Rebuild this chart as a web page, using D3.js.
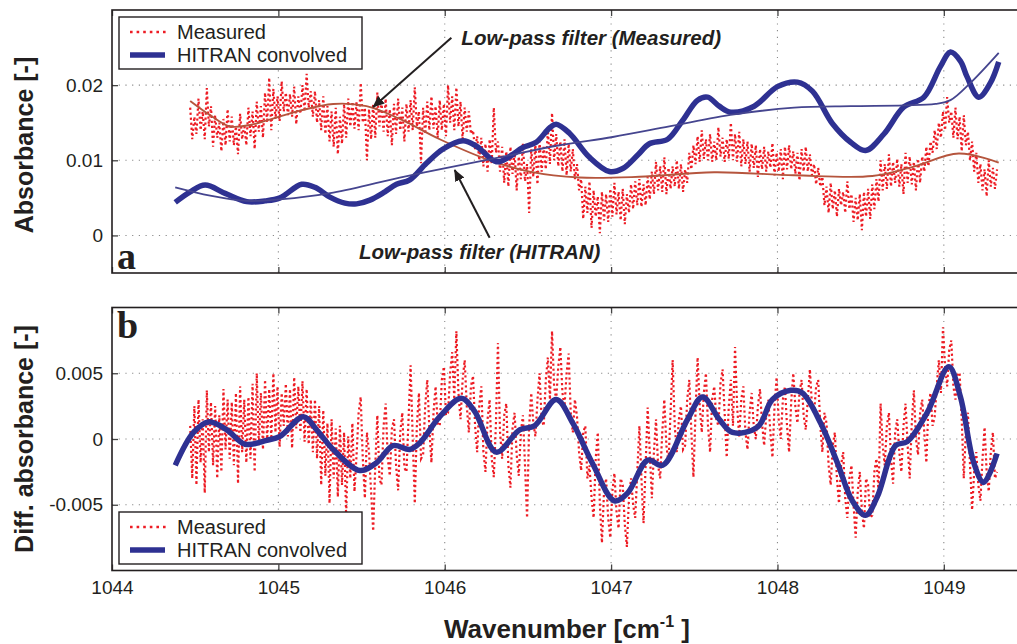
<!DOCTYPE html>
<html lang="en">
<head>
<meta charset="UTF-8">
<title>Measured vs HITRAN absorbance</title>
<script src="https://d3js.org/d3.v7.min.js"></script>
<style>
  body { margin: 0; background: #fff; }
  svg { display: block; font-family: "Liberation Sans", Arial, Helvetica, sans-serif; }
</style>
</head>
<body>
<svg id="chart" width="1017" height="644"></svg>
<script>
// ---------------- data ----------------
// measured spectra: uniform wavenumber grid
var measStart = 1044.47, measStep = 0.0125;

// panel a, measured absorbance [-]
var measuredAbs = [
  0.0170, 0.0128, 0.0158, 0.0135, 0.0182, 0.0140, 0.0165, 0.0128, 0.0196, 0.0145, 0.0172, 0.0118, 0.0160, 0.0130, 0.0150, 0.0112, 0.0155, 0.0120, 0.0168, 0.0125,
  0.0158, 0.0120, 0.0145, 0.0108, 0.0162, 0.0128, 0.0148, 0.0120, 0.0170, 0.0132, 0.0165, 0.0115, 0.0178, 0.0138, 0.0172, 0.0130, 0.0190, 0.0150, 0.0210, 0.0140,
  0.0195, 0.0155, 0.0185, 0.0152, 0.0205, 0.0165, 0.0190, 0.0160, 0.0188, 0.0158, 0.0198, 0.0148, 0.0185, 0.0162, 0.0200, 0.0165, 0.0215, 0.0170, 0.0192, 0.0158,
  0.0192, 0.0150, 0.0180, 0.0140, 0.0185, 0.0135, 0.0172, 0.0125, 0.0165, 0.0118, 0.0170, 0.0108, 0.0158, 0.0122, 0.0175, 0.0130, 0.0182, 0.0145, 0.0178, 0.0142,
  0.0178, 0.0140, 0.0203, 0.0150, 0.0170, 0.0100, 0.0168, 0.0128, 0.0175, 0.0130, 0.0190, 0.0145, 0.0178, 0.0138, 0.0182, 0.0132, 0.0168, 0.0120, 0.0175, 0.0135,
  0.0182, 0.0140, 0.0170, 0.0125, 0.0175, 0.0138, 0.0180, 0.0140, 0.0197, 0.0145, 0.0165, 0.0096, 0.0170, 0.0135, 0.0178, 0.0140, 0.0185, 0.0142, 0.0172, 0.0130,
  0.0180, 0.0140, 0.0175, 0.0132, 0.0200, 0.0150, 0.0185, 0.0140, 0.0197, 0.0145, 0.0178, 0.0128, 0.0170, 0.0138, 0.0165, 0.0135, 0.0140, 0.0115, 0.0132, 0.0100,
  0.0130, 0.0092, 0.0122, 0.0085, 0.0128, 0.0095, 0.0170, 0.0110, 0.0125, 0.0085, 0.0118, 0.0070, 0.0112, 0.0065, 0.0118, 0.0082, 0.0110, 0.0060, 0.0105, 0.0075,
  0.0122, 0.0072, 0.0095, 0.0030, 0.0115, 0.0078, 0.0120, 0.0068, 0.0125, 0.0085, 0.0118, 0.0088, 0.0140, 0.0095, 0.0163, 0.0100, 0.0135, 0.0092, 0.0125, 0.0085,
  0.0128, 0.0080, 0.0122, 0.0085, 0.0115, 0.0075, 0.0095, 0.0060, 0.0075, 0.0022, 0.0065, 0.0030, 0.0072, 0.0010, 0.0060, 0.0025, 0.0052, 0.0003, 0.0058, 0.0020,
  0.0055, 0.0018, 0.0062, 0.0025, 0.0070, 0.0028, 0.0058, 0.0020, 0.0062, 0.0015, 0.0055, 0.0030, 0.0068, 0.0035, 0.0072, 0.0040, 0.0075, 0.0038, 0.0068, 0.0040,
  0.0078, 0.0048, 0.0085, 0.0055, 0.0098, 0.0060, 0.0092, 0.0058, 0.0104, 0.0055, 0.0090, 0.0062, 0.0092, 0.0065, 0.0100, 0.0062, 0.0095, 0.0058, 0.0088, 0.0070,
  0.0110, 0.0088, 0.0120, 0.0095, 0.0132, 0.0098, 0.0140, 0.0102, 0.0128, 0.0100, 0.0135, 0.0098, 0.0125, 0.0100, 0.0144, 0.0105, 0.0130, 0.0098, 0.0128, 0.0102,
  0.0150, 0.0100, 0.0135, 0.0098, 0.0138, 0.0092, 0.0128, 0.0095, 0.0125, 0.0085, 0.0122, 0.0090, 0.0120, 0.0078, 0.0115, 0.0088, 0.0118, 0.0085, 0.0112, 0.0090,
  0.0123, 0.0080, 0.0110, 0.0085, 0.0115, 0.0075, 0.0118, 0.0088, 0.0120, 0.0088, 0.0112, 0.0082, 0.0110, 0.0073, 0.0115, 0.0085, 0.0118, 0.0085, 0.0108, 0.0080,
  0.0095, 0.0068, 0.0090, 0.0065, 0.0078, 0.0040, 0.0065, 0.0030, 0.0070, 0.0035, 0.0060, 0.0025, 0.0062, 0.0040, 0.0058, 0.0030, 0.0072, 0.0035, 0.0055, 0.0018,
  0.0050, 0.0020, 0.0055, 0.0007, 0.0058, 0.0025, 0.0062, 0.0022, 0.0068, 0.0035, 0.0075, 0.0045, 0.0100, 0.0060, 0.0095, 0.0062, 0.0108, 0.0065, 0.0098, 0.0070,
  0.0102, 0.0065, 0.0095, 0.0055, 0.0110, 0.0070, 0.0105, 0.0068, 0.0098, 0.0060, 0.0102, 0.0070, 0.0105, 0.0085, 0.0118, 0.0092, 0.0125, 0.0110, 0.0140, 0.0115,
  0.0150, 0.0130, 0.0165, 0.0140, 0.0184, 0.0150, 0.0165, 0.0130, 0.0170, 0.0128, 0.0158, 0.0112, 0.0160, 0.0120, 0.0138, 0.0100, 0.0125, 0.0085, 0.0110, 0.0070,
  0.0095, 0.0060, 0.0088, 0.0052, 0.0100, 0.0065, 0.0090, 0.0062, 0.0088
];

// panel b, measured differential absorbance [-]
var measuredDiff = [
  0.0010, -0.0030, 0.0025, -0.0035, 0.0030, -0.0018, 0.0015, -0.0041, 0.0037, -0.0010, 0.0028, -0.0020, 0.0025, -0.0030, 0.0018, -0.0025, 0.0038, -0.0008, 0.0030, -0.0015,
  0.0028, -0.0020, 0.0035, -0.0034, 0.0040, -0.0010, 0.0030, -0.0018, 0.0032, -0.0015, 0.0042, -0.0025, 0.0050, -0.0005, 0.0035, -0.0008, 0.0045, -0.0002, 0.0038, 0.0000,
  0.0050, 0.0005, 0.0040, -0.0006, 0.0035, 0.0010, 0.0042, 0.0002, 0.0038, -0.0007, 0.0047, 0.0008, 0.0040, 0.0005, 0.0044, -0.0002, 0.0038, -0.0004, 0.0030, -0.0010,
  0.0030, -0.0015, 0.0025, -0.0035, 0.0022, -0.0028, 0.0012, -0.0049, 0.0015, -0.0030, 0.0008, -0.0044, 0.0010, -0.0035, 0.0005, -0.0059, 0.0002, -0.0030, 0.0012, -0.0040,
  -0.0012, 0.0020, 0.0032, -0.0015, -0.0045, 0.0005, -0.0010, -0.0040, -0.0070, -0.0020, 0.0018, -0.0030, -0.0035, 0.0010, 0.0027, -0.0015, -0.0028, 0.0008, 0.0015, -0.0020,
  -0.0039, 0.0005, 0.0020, -0.0022, -0.0025, 0.0015, 0.0056, 0.0000, -0.0049, 0.0010, 0.0035, -0.0015, -0.0012, 0.0025, 0.0045, 0.0008, -0.0018, 0.0020, 0.0040, 0.0012,
  0.0010, 0.0045, 0.0055, 0.0018, 0.0020, 0.0050, 0.0066, 0.0030, 0.0082, 0.0035, 0.0015, 0.0045, 0.0060, 0.0025, 0.0005, 0.0040, 0.0048, 0.0010, -0.0010, 0.0025,
  0.0040, -0.0010, -0.0025, 0.0015, 0.0030, -0.0015, -0.0029, 0.0010, 0.0073, 0.0005, -0.0015, 0.0018, 0.0027, -0.0020, -0.0037, 0.0008, 0.0020, -0.0012, -0.0028, 0.0005,
  0.0018, -0.0020, -0.0060, 0.0010, 0.0035, 0.0012, 0.0002, 0.0030, 0.0050, 0.0015, 0.0010, 0.0045, 0.0062, 0.0030, 0.0082, 0.0040, 0.0030, 0.0055, 0.0070, 0.0035,
  0.0025, 0.0050, 0.0065, 0.0020, 0.0005, 0.0030, 0.0017, -0.0010, -0.0024, 0.0005, 0.0010, -0.0030, -0.0020, -0.0045, -0.0060, -0.0015, 0.0005, -0.0050, -0.0079, -0.0040,
  -0.0030, -0.0060, -0.0075, -0.0040, -0.0026, -0.0055, -0.0068, -0.0030, -0.0035, -0.0065, -0.0082, -0.0045, -0.0030, -0.0050, -0.0060, -0.0025, 0.0010, -0.0030, -0.0064, -0.0020,
  0.0024, -0.0010, -0.0045, -0.0010, 0.0015, -0.0020, -0.0030, 0.0005, 0.0030, -0.0005, -0.0018, 0.0020, 0.0060, 0.0010, -0.0010, 0.0015, 0.0025, -0.0008, -0.0005, 0.0030,
  0.0045, 0.0005, -0.0029, 0.0020, 0.0062, 0.0025, 0.0005, 0.0035, 0.0050, 0.0010, -0.0010, 0.0030, 0.0040, 0.0015, 0.0010, 0.0042, 0.0053, 0.0020, -0.0014, 0.0025,
  0.0045, 0.0010, 0.0070, 0.0025, 0.0002, 0.0030, 0.0040, 0.0005, -0.0008, 0.0020, 0.0035, 0.0010, 0.0000, 0.0025, 0.0038, 0.0012, -0.0005, 0.0018, 0.0030, 0.0005,
  -0.0014, 0.0025, 0.0047, 0.0015, 0.0000, 0.0030, 0.0040, 0.0010, -0.0010, 0.0028, 0.0050, 0.0025, 0.0012, 0.0035, 0.0045, 0.0018, 0.0007, 0.0030, 0.0053, 0.0025,
  0.0020, 0.0040, 0.0045, 0.0010, -0.0010, 0.0020, 0.0012, -0.0020, -0.0035, -0.0005, 0.0005, -0.0030, -0.0049, -0.0020, -0.0010, -0.0045, -0.0060, -0.0030, -0.0020, -0.0050,
  -0.0075, -0.0040, -0.0025, -0.0055, -0.0068, -0.0030, -0.0035, -0.0060, -0.0058, -0.0025, -0.0015, -0.0040, 0.0027, -0.0005, -0.0020, 0.0010, 0.0020, -0.0015, -0.0034, 0.0005,
  0.0015, -0.0010, -0.0025, 0.0010, 0.0027, -0.0005, -0.0030, 0.0012, 0.0037, 0.0000, -0.0012, 0.0020, 0.0030, 0.0005, -0.0018, 0.0025, 0.0035, 0.0010, 0.0017, 0.0040,
  0.0060, 0.0035, 0.0085, 0.0055, 0.0040, 0.0068, 0.0075, 0.0040, 0.0030, 0.0050, 0.0050, 0.0015, -0.0030, 0.0005, 0.0020, -0.0020, -0.0054, -0.0025, -0.0010, -0.0035,
  -0.0047, -0.0015, 0.0009, -0.0025, -0.0040, -0.0010, 0.0005, -0.0030, -0.0025
];

// panel a, HITRAN convolved
var hitranWn = [1044.38, 1044.47, 1044.56, 1044.68, 1044.81, 1044.92, 1045.01, 1045.14, 1045.22, 1045.31,
  1045.40, 1045.47, 1045.55, 1045.64, 1045.71, 1045.79, 1045.89, 1045.99, 1046.11, 1046.19,
  1046.31, 1046.39, 1046.47, 1046.55, 1046.63, 1046.67, 1046.75, 1046.87, 1046.99, 1047.07,
  1047.16, 1047.23, 1047.34, 1047.43, 1047.52, 1047.58, 1047.65, 1047.72, 1047.86, 1048.00,
  1048.12, 1048.21, 1048.33, 1048.44, 1048.53, 1048.64, 1048.76, 1048.88, 1048.98, 1049.04,
  1049.10, 1049.14, 1049.21, 1049.28, 1049.33];
var hitranAbs = [0.0044, 0.0058, 0.0067, 0.0056, 0.0045, 0.0046, 0.0050, 0.0068, 0.0064, 0.0051,
  0.0043, 0.0042, 0.0047, 0.0058, 0.0068, 0.0074, 0.0096, 0.0115, 0.0126, 0.0119,
  0.0098, 0.0105, 0.0117, 0.0124, 0.0143, 0.0148, 0.0136, 0.0104, 0.0085, 0.0089,
  0.0107, 0.0122, 0.0128, 0.0153, 0.0180, 0.0184, 0.0172, 0.0164, 0.0172, 0.0198,
  0.0204, 0.0192, 0.0149, 0.0124, 0.0113, 0.0135, 0.0171, 0.0184, 0.0225, 0.0244,
  0.0232, 0.0211, 0.0184, 0.0203, 0.0231];

// panel a, low-pass filtered HITRAN
var hitranLowWn = [1044.38, 1044.59, 1044.81, 1045.01, 1045.33, 1045.73, 1045.99, 1046.33, 1046.69, 1047.01,
  1047.35, 1047.74, 1048.10, 1048.44, 1048.76, 1048.95, 1049.04, 1049.16, 1049.33];
var hitranLow = [0.0064, 0.0053, 0.0046, 0.0048, 0.0057, 0.0077, 0.0089, 0.0104, 0.0120, 0.0131,
  0.0145, 0.0161, 0.0170, 0.0172, 0.0173, 0.0175, 0.0180, 0.0203, 0.0243];

// panel a, low-pass filtered measurement
var measLowWn = [1044.47, 1044.59, 1044.71, 1044.83, 1044.93, 1045.13, 1045.33, 1045.53, 1045.73, 1045.97,
  1046.27, 1046.51, 1046.81, 1047.17, 1047.62, 1048.10, 1048.57, 1048.81, 1049.09, 1049.33];
var measLow = [0.0179, 0.0160, 0.0145, 0.0147, 0.0153, 0.0166, 0.0175, 0.0172, 0.0155, 0.0128,
  0.0100, 0.0085, 0.0077, 0.0078, 0.0084, 0.0080, 0.0079, 0.0091, 0.0109, 0.0097];

// panel b, HITRAN convolved (differential)
var hitranDiffWn = [1044.38, 1044.49, 1044.58, 1044.69, 1044.80, 1044.93, 1045.01, 1045.15, 1045.23, 1045.33,
  1045.49, 1045.59, 1045.69, 1045.79, 1045.85, 1045.97, 1046.10, 1046.18, 1046.31, 1046.45,
  1046.54, 1046.67, 1046.77, 1046.89, 1047.02, 1047.10, 1047.22, 1047.31, 1047.46, 1047.55,
  1047.65, 1047.73, 1047.88, 1047.97, 1048.08, 1048.15, 1048.26, 1048.36, 1048.45, 1048.53,
  1048.60, 1048.71, 1048.78, 1048.90, 1049.03, 1049.10, 1049.18, 1049.24, 1049.32];
var hitranDiff = [-0.0020, 0.0005, 0.0013, 0.0007, -0.0004, -0.0001, 0.0002, 0.0017, 0.0007, -0.0008,
  -0.0024, -0.0018, -0.0005, -0.0008, -0.0003, 0.0017, 0.0031, 0.0021, -0.0010, 0.0007,
  0.0010, 0.0030, 0.0012, -0.0019, -0.0047, -0.0041, -0.0016, -0.0020, 0.0015, 0.0032,
  0.0015, 0.0005, 0.0009, 0.0030, 0.0037, 0.0035, 0.0012, -0.0018, -0.0047, -0.0058,
  -0.0044, -0.0005, -0.0002, 0.0020, 0.0055, 0.0032, -0.0018, -0.0033, -0.0011];

var xTicks = [1044, 1045, 1046, 1047, 1048, 1049];
var yTicksA = [0, 0.01, 0.02];
var yTicksB = [-0.005, 0, 0.005];
var legendLabels = ["Measured", "HITRAN convolved"];

// ---------------- layout ----------------
var red = "#ed1c24", blue = "#2e3192", thinBlue = "#45458f", brown = "#b5553d", ink = "#231f20";
var left = 112, right = 1027;
var pA = { top: 10, bottom: 273 }, pB = { top: 307.5, bottom: 570.5 };

var svg = d3.select("#chart");
var x = d3.scaleLinear().domain([1044, 1049.5]).range([left, right]);
var yA = d3.scaleLinear().domain([-0.005, 0.03]).range([pA.bottom, pA.top]);
var yB = d3.scaleLinear().domain([-0.01, 0.01]).range([pB.bottom, pB.top]);

var measWn = measuredAbs.map(function(d, i) { return measStart + i * measStep; });
function zip(xs, ys) { return xs.map(function(v, i) { return [v, ys[i]]; }); }

var defs = svg.append("defs");
defs.append("marker").attr("id", "head")
  .attr("viewBox", "0 0 12 10").attr("refX", 11).attr("refY", 5)
  .attr("markerWidth", 12).attr("markerHeight", 10)
  .attr("markerUnits", "userSpaceOnUse").attr("orient", "auto")
  .append("path").attr("d", "M0,0 L12,5 L0,10 Z").attr("fill", ink);

function panel(p, y, yTicks, id) {
  defs.append("clipPath").attr("id", id).append("rect")
    .attr("x", left).attr("y", p.top).attr("width", right - left).attr("height", p.bottom - p.top);

  // dotted grid
  var grid = svg.append("g").attr("stroke", "#8a8a8a").attr("stroke-width", 1.1)
    .attr("stroke-dasharray", "1.2,5.5");
  grid.selectAll(".gx").data(xTicks.slice(1)).join("line")
    .attr("x1", function(d) { return x(d); }).attr("x2", function(d) { return x(d); })
    .attr("y1", p.top).attr("y2", p.bottom);
  grid.selectAll(".gy").data(yTicks).join("line")
    .attr("x1", left).attr("x2", right)
    .attr("y1", function(d) { return y(d); }).attr("y2", function(d) { return y(d); });

  return svg.append("g").attr("clip-path", "url(#" + id + ")");
}

function axes(p, y, yTicks, showXLabels) {
  var bottom = svg.append("g").attr("transform", "translate(0," + p.bottom + ")")
    .call(d3.axisBottom(x).tickValues(xTicks).tickSize(-6).tickPadding(10)
      .tickFormat(showXLabels ? d3.format("d") : function() { return ""; }));
  var top = svg.append("g").attr("transform", "translate(0," + p.top + ")")
    .call(d3.axisTop(x).tickValues(xTicks).tickSize(-6).tickFormat(function() { return ""; }));
  var leftAx = svg.append("g").attr("transform", "translate(" + left + ",0)")
    .call(d3.axisLeft(y).tickValues(yTicks).tickSize(-6).tickPadding(9)
      .tickFormat(function(d) { return String(d); }));
  [bottom, top, leftAx].forEach(function(g) {
    g.select(".domain").remove();
    g.selectAll(".tick line").attr("stroke", "#444").attr("stroke-width", 1.3);
    g.selectAll("text").attr("font-size", 19).attr("fill", ink)
      .attr("font-family", "'Liberation Sans', Arial, sans-serif");
  });
  svg.append("rect").attr("x", left).attr("y", p.top)
    .attr("width", right - left + 20).attr("height", p.bottom - p.top)
    .attr("fill", "none").attr("stroke", ink).attr("stroke-width", 1.6);
}

function legend(bx, by) {
  var g = svg.append("g").attr("transform", "translate(" + bx + "," + by + ")");
  g.append("rect").attr("width", 243).attr("height", 52).attr("fill", "#fff")
    .attr("stroke", ink).attr("stroke-width", 1.4);
  g.append("line").attr("x1", 11).attr("x2", 47).attr("y1", 15).attr("y2", 15)
    .attr("stroke", red).attr("stroke-width", 2.6).attr("stroke-dasharray", "2.6,4");
  g.append("line").attr("x1", 11).attr("x2", 46).attr("y1", 38).attr("y2", 38)
    .attr("stroke", blue).attr("stroke-width", 5.5);
  g.selectAll("text").data(legendLabels).join("text")
    .attr("x", 58).attr("y", function(d, i) { return 15 + i * 23; })
    .attr("dy", "0.36em").attr("font-size", 20).attr("fill", ink).text(function(d) { return d; });
}

var smooth = d3.curveCatmullRom.alpha(0.5);

// ---------- panel a ----------
var plotA = panel(pA, yA, yTicksA, "clipA");
var lineA = d3.line().x(function(d) { return x(d[0]); }).y(function(d) { return yA(d[1]); });
plotA.append("path").datum(zip(measWn, measuredAbs)).attr("d", lineA)
  .attr("fill", "none").attr("stroke", red).attr("stroke-width", 2.2).attr("stroke-dasharray", "2.2,2.8");
plotA.append("path").datum(zip(measLowWn, measLow)).attr("d", lineA.curve(smooth))
  .attr("fill", "none").attr("stroke", brown).attr("stroke-width", 1.9);
plotA.append("path").datum(zip(hitranWn, hitranAbs)).attr("d", lineA.curve(smooth))
  .attr("fill", "none").attr("stroke", blue).attr("stroke-width", 5.5).attr("stroke-linejoin", "round");
plotA.append("path").datum(zip(hitranLowWn, hitranLow)).attr("d", lineA.curve(smooth))
  .attr("fill", "none").attr("stroke", thinBlue).attr("stroke-width", 1.8);
axes(pA, yA, yTicksA, false);
legend(119, 17);

// annotations (data coordinates)
var notes = [
  { text: "Low-pass filter (Measured)", tx: 1046.10, ty: 0.0263, anchor: "start",
    from: [1046.04, 0.0263], to: [1045.57, 0.0171] },
  { text: "Low-pass filter (HITRAN)", tx: 1046.21, ty: -0.0021, anchor: "middle",
    from: [1046.27, -0.0003], to: [1046.06, 0.0087] }
];
notes.forEach(function(n) {
  svg.append("line").attr("x1", x(n.from[0])).attr("y1", yA(n.from[1]))
    .attr("x2", x(n.to[0])).attr("y2", yA(n.to[1]))
    .attr("stroke", ink).attr("stroke-width", 2).attr("marker-end", "url(#head)");
  svg.append("text").attr("x", x(n.tx)).attr("y", yA(n.ty)).attr("dy", "0.36em")
    .attr("text-anchor", n.anchor).attr("font-size", 20.5).attr("font-weight", "bold")
    .attr("font-style", "italic").attr("fill", ink).text(n.text);
});

// ---------- panel b ----------
var plotB = panel(pB, yB, yTicksB, "clipB");
var lineB = d3.line().x(function(d) { return x(d[0]); }).y(function(d) { return yB(d[1]); });
plotB.append("path").datum(zip(measWn, measuredDiff)).attr("d", lineB)
  .attr("fill", "none").attr("stroke", red).attr("stroke-width", 2.2).attr("stroke-dasharray", "2.2,2.8");
plotB.append("path").datum(zip(hitranDiffWn, hitranDiff)).attr("d", lineB.curve(smooth))
  .attr("fill", "none").attr("stroke", blue).attr("stroke-width", 5.5).attr("stroke-linejoin", "round");
axes(pB, yB, yTicksB, true);
legend(119, 512);

// panel letters
svg.append("text").attr("x", 117).attr("y", 269).text("a")
  .attr("font-family", "'Liberation Serif', 'Times New Roman', serif").attr("font-weight", "bold")
  .attr("font-size", 38).attr("fill", ink);
svg.append("text").attr("x", 117).attr("y", 338).text("b")
  .attr("font-family", "'Liberation Serif', 'Times New Roman', serif").attr("font-weight", "bold")
  .attr("font-size", 38).attr("fill", ink);

// axis titles
svg.append("text").attr("transform", "translate(33,145) rotate(-90)")
  .attr("text-anchor", "middle").attr("font-size", 25).attr("font-weight", "bold")
  .attr("fill", ink).text("Absorbance [-]");
svg.append("text").attr("transform", "translate(33,439) rotate(-90)")
  .attr("text-anchor", "middle").attr("font-size", 25).attr("font-weight", "bold")
  .attr("fill", ink).text("Diff. absorbance [-]");
var xl = svg.append("text").attr("x", 567).attr("y", 638).attr("text-anchor", "middle")
  .attr("font-size", 26).attr("font-weight", "bold").attr("fill", ink);
xl.append("tspan").text("Wavenumber [cm");
xl.append("tspan").attr("dy", -11).attr("font-size", 16).text("-1");
xl.append("tspan").attr("dy", 11).text(" ]");
</script>
</body>
</html>
